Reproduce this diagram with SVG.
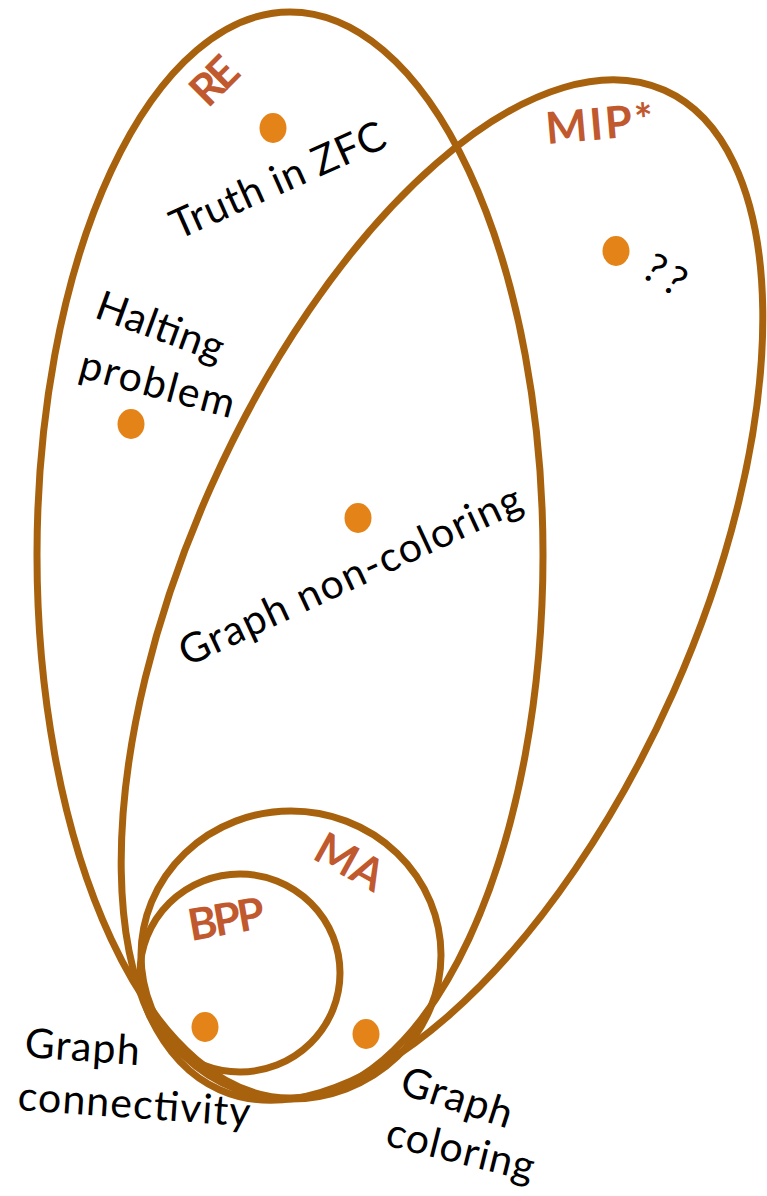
<svg xmlns="http://www.w3.org/2000/svg" width="767" height="1196" viewBox="0 0 767 1196">
  <style>
    .set { fill: none; stroke: #A8620E; stroke-width: 7; }
    .dot { fill: #E38318; }
    .cls { font-family: Lato, "Open Sans", "Liberation Sans", sans-serif; font-weight: bold; font-size: 44px; fill: #C1592F; }
    .lbl { font-family: Lato, "Open Sans", "Liberation Sans", sans-serif; font-size: 41px; fill: #000; }
  </style>
  <rect width="767" height="1196" fill="#fff"/>

  <!-- complexity classes -->
  <g id="re">
    <ellipse class="set" cx="290" cy="555" rx="253" ry="543"/>
    <text class="cls" transform="translate(208,109) rotate(-45)" textLength="49">RE</text>
  </g>
  <g id="mipstar">
    <ellipse class="set" cx="442" cy="590" rx="253" ry="547" transform="rotate(24 442 590)"/>
    <text class="cls" transform="translate(547,144) rotate(-5)" textLength="108">MIP*</text>
  </g>
  <g id="ma">
    <ellipse class="set" cx="291" cy="955" rx="150" ry="144"/>
    <text class="cls" transform="translate(311,858) rotate(29)" textLength="72">MA</text>
  </g>
  <g id="bpp">
    <ellipse class="set" cx="240" cy="973" rx="100" ry="99"/>
    <text class="cls" transform="translate(191,941) rotate(-10)" textLength="77">BPP</text>
  </g>

  <!-- example problems -->
  <g id="truth-zfc">
    <ellipse class="dot" cx="273" cy="128" rx="13.5" ry="15"/>
    <text class="lbl" transform="translate(178,240) rotate(-24)" textLength="231">Truth in ZFC</text>
  </g>
  <g id="unknown">
    <ellipse class="dot" cx="616" cy="251" rx="13.5" ry="15"/>
    <text class="lbl" transform="translate(640,276) rotate(31)" textLength="42">??</text>
  </g>
  <g id="halting">
    <ellipse class="dot" cx="131" cy="424" rx="13.5" ry="15"/>
    <text class="lbl" transform="translate(93,317) rotate(20)" textLength="133">Halting</text>
    <text class="lbl" transform="translate(77,377) rotate(15)" textLength="159">problem</text>
  </g>
  <g id="non-coloring">
    <ellipse class="dot" cx="358" cy="518" rx="13.5" ry="15"/>
    <text class="lbl" transform="translate(187,667) rotate(-25)" textLength="373">Graph non-coloring</text>
  </g>
  <g id="connectivity">
    <ellipse class="dot" cx="205" cy="1027" rx="13.5" ry="15"/>
    <text class="lbl" transform="translate(24,1057) rotate(4)" textLength="115">Graph</text>
    <text class="lbl" transform="translate(17,1110) rotate(4)" textLength="233">connectivity</text>
  </g>
  <g id="coloring">
    <ellipse class="dot" cx="366" cy="1034" rx="13.5" ry="15"/>
    <text class="lbl" transform="translate(398,1093) rotate(18)" textLength="115">Graph</text>
    <text class="lbl" transform="translate(384,1145) rotate(14)" textLength="151">coloring</text>
  </g>

  <g id="connectors"/>
</svg>
